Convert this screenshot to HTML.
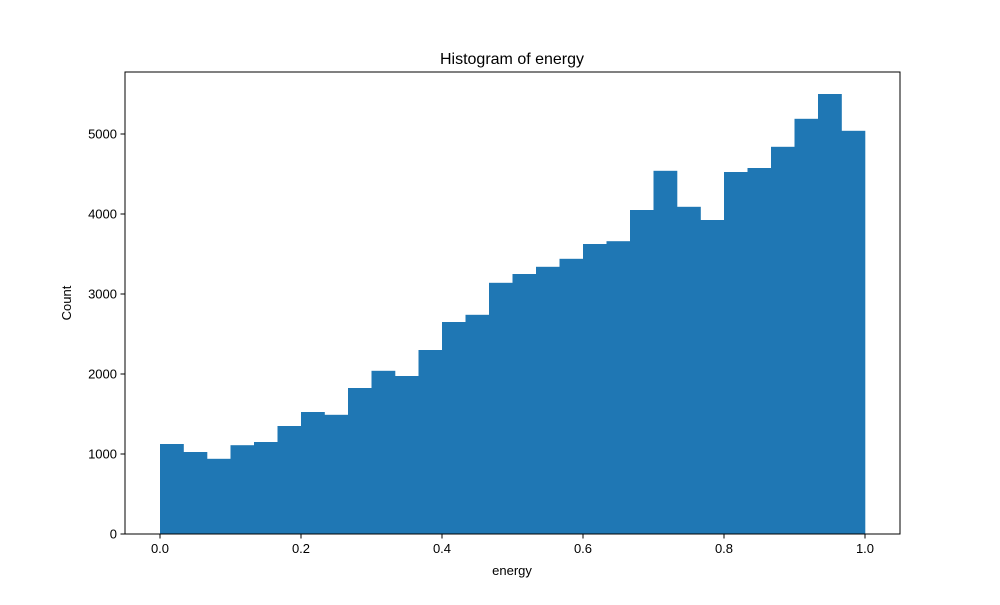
<!DOCTYPE html>
<html><head><meta charset="utf-8"><style>
body{margin:0;background:#fff;}
svg text{font-family:"Liberation Sans","DejaVu Sans",sans-serif;fill:#000;}
</style></head><body>
<svg width="1000" height="600">
<rect width="1000" height="600" fill="#fff"/>
<g id="bars"></g>
<rect x="125" y="72" width="775" height="462" fill="none" stroke="#000" stroke-width="1"/>
<g id="xt"></g>
<g id="yt"></g>
<text x="512" y="64" font-size="16" text-anchor="middle">Histogram of energy</text>
<text x="512" y="575" font-size="13" text-anchor="middle">energy</text>
<text transform="translate(71,303) rotate(-90)" font-size="13" text-anchor="middle">Count</text>
</svg>
<script>
const counts=[1125,1025,940,1110,1150,1350,1525,1490,1825,2040,1975,2300,2650,2740,3140,3250,3340,3440,3625,3660,4050,4540,4090,3925,4525,4575,4840,5190,5500,5040];
const xTicks=[0,0.2,0.4,0.6,0.8,1.0];
const yTicks=[0,1000,2000,3000,4000,5000];
const NS="http://www.w3.org/2000/svg";
const xs=v=>160+v*705, ys=v=>534-v*0.08;
const bars=document.getElementById('bars');
const n=counts.length;
counts.forEach((c,i)=>{
 const r=document.createElementNS(NS,'rect');
 const x0=xs(i/n),x1=xs((i+1)/n);
 r.setAttribute('x',x0);r.setAttribute('width',x1-x0+0.3);
 r.setAttribute('y',ys(c));r.setAttribute('height',534-ys(c));
 r.setAttribute('fill','#1f77b4');
 
 
 bars.appendChild(r);
});
const xt=document.getElementById('xt');
xTicks.forEach(v=>{
 const x=xs(v);
 const l=document.createElementNS(NS,'line');
 l.setAttribute('x1',x);l.setAttribute('x2',x);l.setAttribute('y1',534);l.setAttribute('y2',538.5);l.setAttribute('stroke','#000');
 
 
 xt.appendChild(l);
 const t=document.createElementNS(NS,'text');
 t.setAttribute('x',x);t.setAttribute('y',553);t.setAttribute('font-size','13');t.setAttribute('text-anchor','middle');
 t.textContent=v.toFixed(1);
 
 
 xt.appendChild(t);
});
const yt=document.getElementById('yt');
yTicks.forEach(v=>{
 const y=ys(v);
 const l=document.createElementNS(NS,'line');
 l.setAttribute('x1',120.5);l.setAttribute('x2',125);l.setAttribute('y1',y);l.setAttribute('y2',y);l.setAttribute('stroke','#000');
 
 
 yt.appendChild(l);
 const t=document.createElementNS(NS,'text');
 t.setAttribute('x',117);t.setAttribute('y',y+4.5);t.setAttribute('font-size','13');t.setAttribute('text-anchor','end');
 t.textContent=v;
 
 
 yt.appendChild(t);
});
</script>
</body></html>
